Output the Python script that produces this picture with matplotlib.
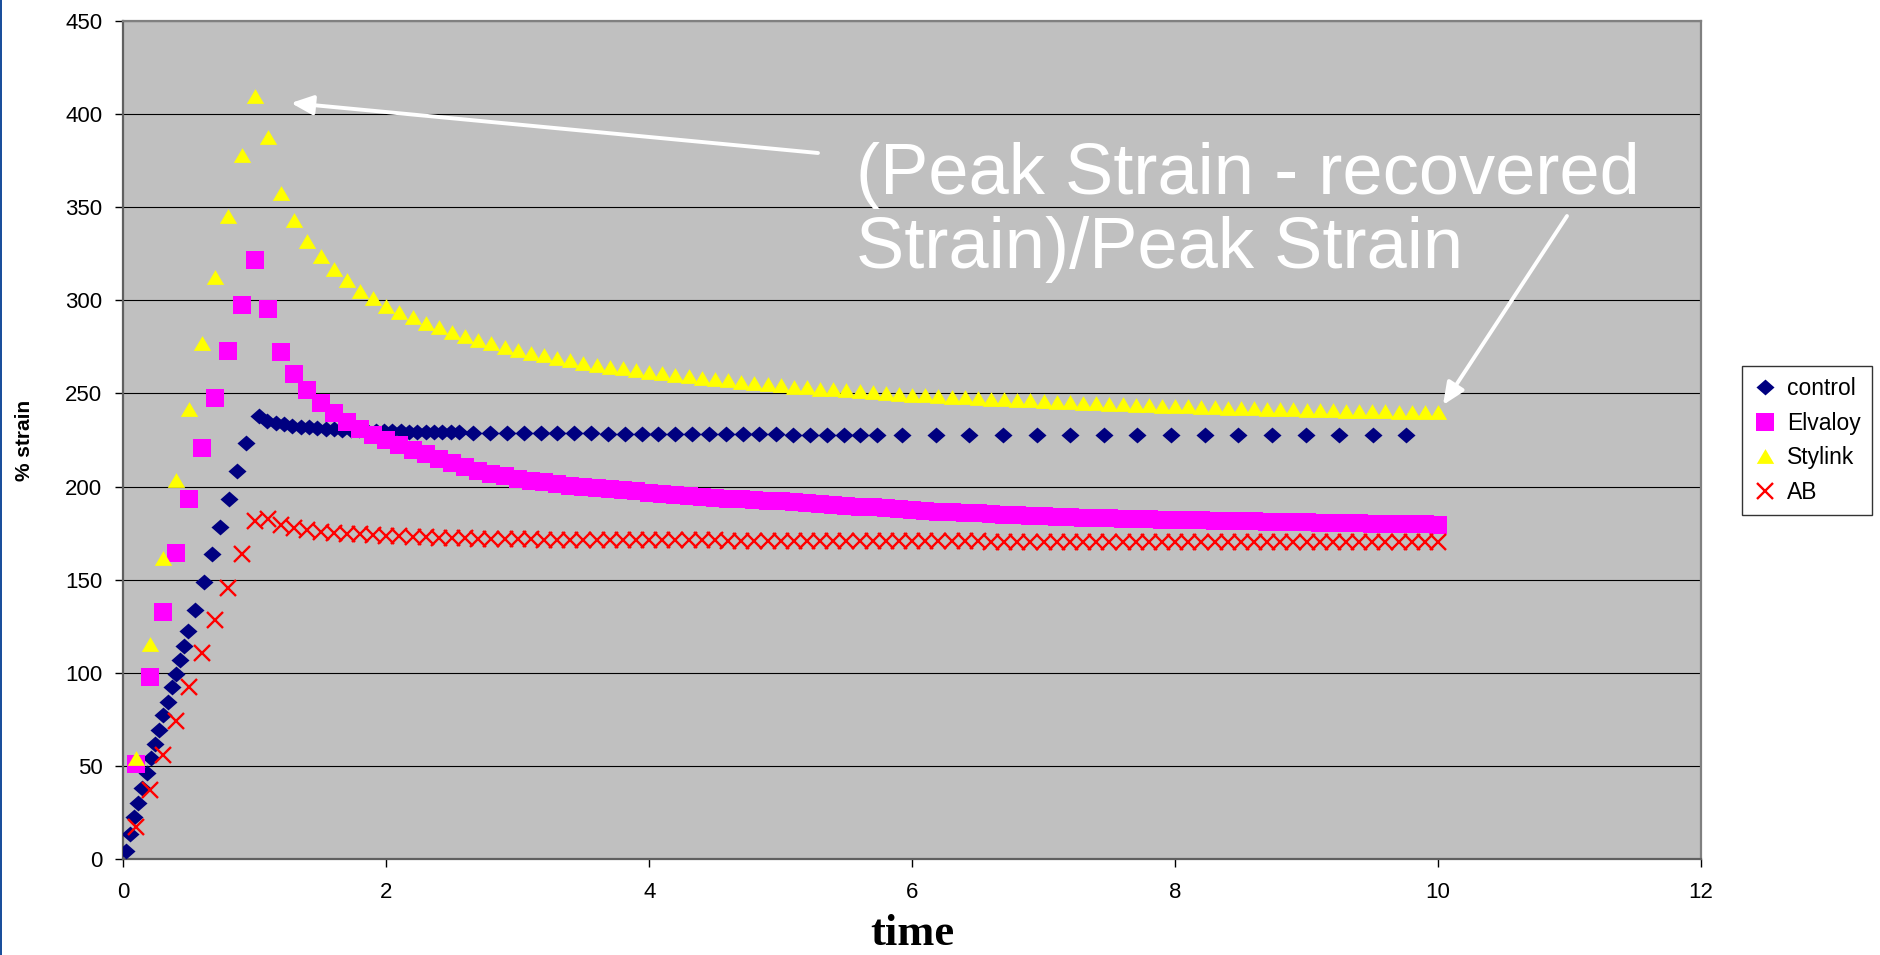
import matplotlib
matplotlib.use("Agg")
import matplotlib.pyplot as plt
from matplotlib.patches import Rectangle

# ---------------- data ----------------
# control: irregular sampling (fine during loading, coarser later)
control_t = [0.018, 0.051, 0.083, 0.114, 0.144, 0.178, 0.208, 0.240, 0.273, 0.304,
             0.337, 0.368, 0.401, 0.431, 0.464, 0.494, 0.548, 0.611, 0.674, 0.738,
             0.801, 0.862, 0.931,
             1.032, 1.095, 1.159, 1.222, 1.285, 1.349, 1.412, 1.475, 1.539, 1.602,
             1.665, 1.729, 1.792, 1.855, 1.919, 1.982, 2.045, 2.109, 2.172, 2.235,
             2.299, 2.362, 2.425, 2.489, 2.552,
             2.662, 2.790, 2.918, 3.046, 3.174, 3.302, 3.430, 3.558, 3.686, 3.814,
             3.942, 4.070, 4.198, 4.326, 4.454, 4.582, 4.710, 4.838, 4.966, 5.094,
             5.222, 5.350, 5.478, 5.606, 5.734,
             5.924, 6.180, 6.435, 6.691, 6.947, 7.202, 7.458, 7.714, 7.970, 8.225,
             8.481, 8.737, 8.992, 9.248, 9.504, 9.760]
control_v = [4.5, 13.6, 22.7, 30.2, 38.5, 46.2, 54.1, 61.9, 69.3, 77.2,
             84.5, 92.2, 99.7, 107.2, 114.6, 122.4, 133.7, 148.6, 163.6, 178.5,
             193.3, 208.4, 223.3,
             238.0, 235.4, 234.0, 233.5, 232.7, 232.2, 231.8, 231.6, 231.1, 230.8,
             230.6, 230.4, 230.2, 230.0, 229.9, 229.8, 229.7, 229.6, 229.5, 229.4,
             229.4, 229.3, 229.3, 229.2, 229.2,
             229.0, 228.9, 228.8, 228.7, 228.7, 228.6, 228.5, 228.5, 228.4, 228.4,
             228.3, 228.3, 228.2, 228.2, 228.1, 228.1, 228.0, 228.0, 228.0, 227.9,
             227.9, 227.9, 227.8, 227.8, 227.8,
             227.8, 227.8, 227.7, 227.7, 227.7, 227.7, 227.7, 227.7, 227.7, 227.6,
             227.6, 227.6, 227.6, 227.6, 227.6, 227.6]

# Elvaloy, Stylink and AB share a 0.1 time step
tenth_t = [0.1, 0.2, 0.3, 0.4, 0.5, 0.6, 0.7, 0.8, 0.9, 1.0,
           1.1, 1.2, 1.3, 1.4, 1.5, 1.6, 1.7, 1.8, 1.9, 2.0,
           2.1, 2.2, 2.3, 2.4, 2.5, 2.6, 2.7, 2.8, 2.9, 3.0,
           3.1, 3.2, 3.3, 3.4, 3.5, 3.6, 3.7, 3.8, 3.9, 4.0,
           4.1, 4.2, 4.3, 4.4, 4.5, 4.6, 4.7, 4.8, 4.9, 5.0,
           5.1, 5.2, 5.3, 5.4, 5.5, 5.6, 5.7, 5.8, 5.9, 6.0,
           6.1, 6.2, 6.3, 6.4, 6.5, 6.6, 6.7, 6.8, 6.9, 7.0,
           7.1, 7.2, 7.3, 7.4, 7.5, 7.6, 7.7, 7.8, 7.9, 8.0,
           8.1, 8.2, 8.3, 8.4, 8.5, 8.6, 8.7, 8.8, 8.9, 9.0,
           9.1, 9.2, 9.3, 9.4, 9.5, 9.6, 9.7, 9.8, 9.9, 10.0]

elvaloy_v = [51.4, 97.9, 132.8, 164.2, 193.2, 220.6, 247.4, 272.5, 297.5, 321.6,
             295.2, 272.3, 260.4, 251.6, 245.0, 239.7, 234.7, 231.1, 227.7, 225.0,
             222.2, 219.7, 217.3, 215.0, 212.8, 210.6, 208.6, 207.0, 205.6, 204.3,
             203.2, 202.2, 201.2, 200.5, 199.9, 199.2, 198.6, 198.0, 197.4, 196.8,
             196.2, 195.6, 195.0, 194.4, 194.0, 193.6, 193.2, 192.8, 192.4, 192.0,
             191.5, 191.1, 190.6, 190.2, 189.7, 189.3, 188.8, 188.4, 187.9, 187.5,
             187.0, 186.6, 186.2, 185.9, 185.6, 185.3, 185.0, 184.7, 184.4, 184.1,
             183.9, 183.6, 183.4, 183.2, 183.0, 182.8, 182.6, 182.4, 182.3, 182.2,
             182.1, 182.0, 181.8, 181.7, 181.5, 181.4, 181.2, 181.1, 180.9, 180.8,
             180.6, 180.5, 180.4, 180.2, 180.1, 180.0, 179.9, 179.8, 179.7, 179.6]

stylink_v = [54.1, 115.8, 161.5, 203.5, 241.5, 277.0, 312.2, 345.3, 378.0, 409.8,
             387.4, 357.8, 343.2, 332.0, 323.5, 316.7, 310.6, 305.2, 301.0, 297.0,
             293.8, 290.8, 288.0, 285.4, 283.0, 280.7, 278.6, 276.8, 275.0, 273.4,
             271.9, 270.4, 269.0, 267.7, 266.5, 265.4, 264.4, 263.4, 262.5, 261.6,
             260.8, 260.0, 259.2, 258.5, 257.8, 257.0, 256.3, 255.6, 254.9, 254.3,
             253.7, 253.2, 252.6, 252.1, 251.6, 251.1, 250.6, 250.2, 249.8, 249.4,
             249.0, 248.6, 248.3, 247.9, 247.6, 247.2, 246.9, 246.5, 246.2, 245.9,
             245.6, 245.3, 245.0, 244.8, 244.5, 244.3, 244.0, 243.8, 243.5, 243.3,
             243.1, 242.9, 242.6, 242.4, 242.2, 242.0, 241.8, 241.6, 241.4, 241.2,
             241.0, 240.9, 240.7, 240.6, 240.4, 240.3, 240.1, 240.0, 239.9, 239.8]

ab_v = [17.4, 37.4, 55.9, 74.3, 92.5, 110.5, 128.4, 145.7, 163.6, 181.5,
        182.4, 179.4, 177.9, 176.7, 175.8, 175.2, 174.6, 174.3, 174.0, 173.6,
        173.3, 173.0, 172.8, 172.6, 172.4, 172.2, 172.1, 172.0, 171.9, 171.8,
        171.7, 171.6, 171.6, 171.5, 171.5, 171.4, 171.4, 171.3, 171.3, 171.2,
        171.2, 171.2, 171.1, 171.1, 171.1, 171.0, 171.0, 171.0, 170.9, 170.9,
        170.9, 170.9, 170.8, 170.8, 170.8, 170.8, 170.7, 170.7, 170.7, 170.7,
        170.6, 170.6, 170.6, 170.6, 170.6, 170.5, 170.5, 170.5, 170.5, 170.5,
        170.5, 170.5, 170.4, 170.4, 170.4, 170.4, 170.4, 170.4, 170.4, 170.4,
        170.4, 170.4, 170.4, 170.3, 170.3, 170.3, 170.3, 170.3, 170.3, 170.3,
        170.3, 170.3, 170.2, 170.2, 170.2, 170.2, 170.2, 170.1, 170.1, 170.1]

series_names = ["control", "Elvaloy", "Stylink", "AB"]
x_ticks = [0, 2, 4, 6, 8, 10, 12]
y_ticks = [0, 50, 100, 150, 200, 250, 300, 350, 400, 450]
annotation = "(Peak Strain - recovered\nStrain)/Peak Strain"

# ---------------- figure ----------------
W, H = 1881, 955
fig = plt.figure(figsize=(W / 100, H / 100), dpi=100)
fig.patch.set_facecolor("white")

ax = fig.add_axes([123.3 / W, 1 - 859.3 / H, 1577.7 / W, 838.6 / H])
ax.set_facecolor("#C0C0C0")

diamond = [(-1, 0), (0, 0.88), (1, 0), (0, -0.88), (-1, 0)]
triangle = [(-1, -0.85), (1, -0.85), (0, 0.85), (-1, -0.85)]

ax.plot(control_t, control_v, linestyle="none", marker=diamond, markersize=13,
        color="#000080", markeredgewidth=0, label=series_names[0], zorder=3)
ax.plot(tenth_t, elvaloy_v, linestyle="none", marker="s", markersize=12.3,
        color="#FF00FF", markeredgewidth=0, label=series_names[1], zorder=4)
ax.plot(tenth_t, stylink_v, linestyle="none", marker=triangle, markersize=12.5,
        color="#FFFF00", markeredgewidth=0, label=series_names[2], zorder=5)
ax.plot(tenth_t, ab_v, linestyle="none", marker="x", markersize=11.5,
        color="#FF0000", markeredgewidth=1.7, label=series_names[3], zorder=6)

ax.set_xlim(0, 12)
ax.set_ylim(0, 450)
ax.set_xticks(x_ticks)
ax.set_yticks(y_ticks)
ax.yaxis.grid(True, color="#000000", linewidth=0.8, zorder=1)
ax.set_axisbelow(True)

tick_font = dict(family="Liberation Sans", size=16)
ax.set_xticklabels([str(v) for v in x_ticks], fontdict=tick_font)
ax.set_yticklabels([str(v) for v in y_ticks], fontdict=tick_font)
ax.tick_params(axis="both", direction="out", length=6, width=1, color="#000000")
ax.tick_params(axis="x", pad=10)
ax.tick_params(axis="y", pad=9)

for side in ("left", "bottom"):
    ax.spines[side].set_color("#606060")
    ax.spines[side].set_linewidth(1.6)
for side in ("top", "right"):
    ax.spines[side].set_color("#808080")
    ax.spines[side].set_linewidth(1.6)

# axis titles
fig.text(25 / W, 1 - 440 / H, "% strain", rotation=90, ha="center", va="center",
         family="Liberation Sans", weight="bold", size=15)
fig.text(912 / W, 1 / H, "time", ha="center", va="bottom",
         family="Liberation Serif", weight="bold", size=32)

# legend
leg = fig.legend(loc="upper left", bbox_to_anchor=(1742 / W, 1 - 366 / H),
                 bbox_transform=fig.transFigure, frameon=True, fancybox=False,
                 prop=dict(family="Liberation Sans", size=16.5), numpoints=1,
                 handlelength=1.0, handletextpad=0.45, labelspacing=0.5,
                 borderpad=0.5, borderaxespad=0)
leg.get_frame().set_edgecolor("#000000")
leg.get_frame().set_linewidth(1.0)

# callout text (baseline of its last line) and arrows
fig.text(856, H - 268, annotation, transform=None, ha="left", va="baseline",
         color="white", family="Liberation Sans", size=52, linespacing=1.13)
arrow_kw = dict(arrowstyle="-|>,head_length=0.95,head_width=0.42", color="white",
                lw=2.8, mutation_scale=14, shrinkA=0, shrinkB=0)
ax.annotate("", xy=(291, H - 103), xycoords="figure pixels",
            xytext=(818, H - 153), textcoords="figure pixels", arrowprops=arrow_kw)
ax.annotate("", xy=(1443, H - 405), xycoords="figure pixels",
            xytext=(1567, H - 216), textcoords="figure pixels", arrowprops=arrow_kw)

# slide edge on the left
fig.patches.append(Rectangle((0, 0), 2 / W, 1, transform=fig.transFigure,
                             facecolor="#1A4F9C", edgecolor="none"))

fig.savefig("out.png", dpi=100)
